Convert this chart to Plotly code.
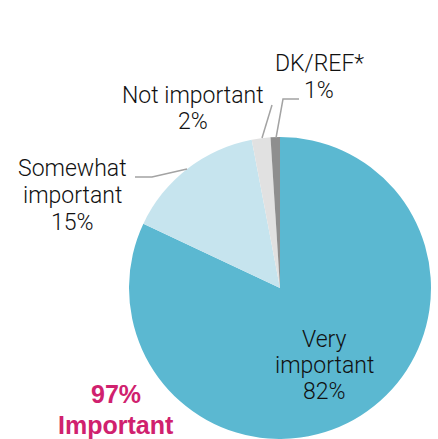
import plotly.graph_objects as go

W, H = 438, 439

# Survey responses
categories = ["Very important", "Somewhat important", "Not important", "DK/REF*"]
shares = [82, 15, 2, 1]
colors = ["#5BB8D1", "#C6E4EE", "#E1E1E1", "#8E8E8E"]
combined_label = "Important"
combined_share = shares[0] + shares[1]


def px(x, y):
    """Pixel position -> paper coordinates."""
    return x / W, 1 - y / H


cx, cy, r = 280, 288, 151
x0, y0 = px(cx - r, cy - r)
x1, y1 = px(cx + r, cy + r)

fig = go.Figure(
    go.Pie(
        labels=categories,
        values=shares,
        sort=False,
        direction="clockwise",
        rotation=0,
        marker=dict(colors=colors, line=dict(width=0)),
        textinfo="none",
        hoverinfo="skip",
        showlegend=False,
        domain=dict(x=[x0, x1], y=[max(0, y1), y0]),
    )
)

font = dict(family="Roboto", size=23, color="#111111", weight=300)

# label lines per slice, with x centre and y of each line (pixels)
label_lines = {
    "Very important": (324, ["Very", "important"], [339, 365, 391]),
    "Somewhat important": (72, ["Somewhat", "important"], [168, 195, 222]),
    "Not important": (193, ["Not important"], [95, 122]),
    "DK/REF*": (319, ["DK/REF*"], [64, 90]),
}

for cat, val in zip(categories, shares):
    lx, words, ys = label_lines[cat]
    for txt, yy in zip(words + [f"{val}%"], ys):
        u, v = px(lx, yy)
        fig.add_annotation(
            x=u, y=v, xref="paper", yref="paper", text=txt,
            showarrow=False, font=font, xanchor="center", yanchor="middle",
        )

bold_font = dict(family="Liberation Sans", size=25, color="#D0216E")
for txt, yy in [(f"<b>{combined_share}%</b>", 394), (f"<b>{combined_label}</b>", 425)]:
    u, v = px(116, yy)
    fig.add_annotation(
        x=u, y=v, xref="paper", yref="paper", text=txt,
        showarrow=False, font=bold_font, xanchor="center", yanchor="middle",
    )

# leader lines
leaders = [
    [(135, 177), (152, 177), (187, 169)],
    [(272, 105), (262, 138)],
    [(299, 99), (283, 99), (276, 138)],
]
for pts in leaders:
    path = ""
    for i, (x, y) in enumerate(pts):
        u, v = px(x, y)
        path += ("M" if i == 0 else "L") + f" {u} {v} "
    fig.add_shape(type="path", path=path, xref="paper", yref="paper",
                  line=dict(color="#A3A3A3", width=1.5))

fig.update_layout(
    width=W, height=H,
    margin=dict(l=0, r=0, t=0, b=0),
    paper_bgcolor="white", plot_bgcolor="white",
)

fig.write_html("out.html")
